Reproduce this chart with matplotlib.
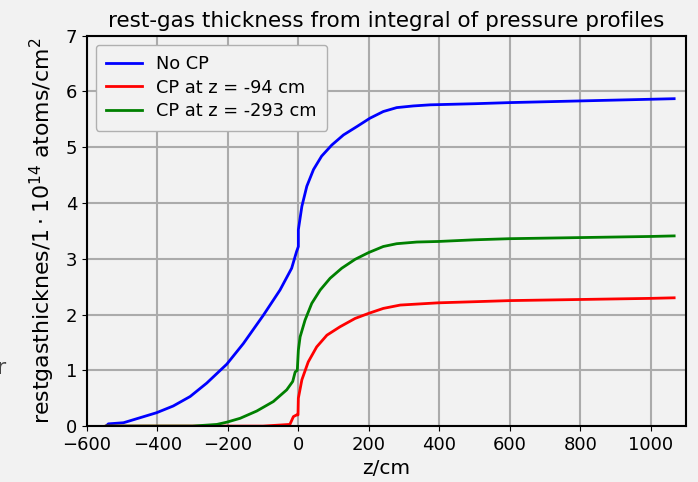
import numpy as np
import matplotlib.pyplot as plt

# z positions (cm) and rest-gas thickness (1e14 atoms/cm^2)
z_nocp = [-545, -539, -496, -449, -402, -355, -307, -260, -203, -156, -99, -52, -19, -12, -5, -1,
          0, 0, 10, 24, 43, 66, 95, 128, 166, 203, 241, 279, 326, 374,
          500, 600, 700, 800, 900, 1000, 1066]
t_nocp = [0.0, 0.04, 0.06, 0.15, 0.24, 0.36, 0.53, 0.77, 1.11, 1.48, 1.99, 2.44, 2.83, 2.98, 3.13, 3.2,
          3.22, 3.52, 3.94, 4.30, 4.60, 4.84, 5.04, 5.22, 5.37, 5.52, 5.64, 5.71, 5.74, 5.76,
          5.78, 5.80, 5.815, 5.83, 5.845, 5.86, 5.87]

z_cp94 = [-545, -300, -200, -100, -24, -14, -5, -1, 0, 10, 28, 52, 81, 118, 161, 199, 241, 289,
          397, 500, 600, 800, 1000, 1066]
t_cp94 = [0.0, 0.0, 0.0, 0.0, 0.03, 0.17, 0.2, 0.2, 0.5, 0.83, 1.15, 1.42, 1.63, 1.78, 1.93, 2.02, 2.11, 2.17,
          2.21, 2.23, 2.25, 2.27, 2.29, 2.3]

z_cp293 = [-545, -300, -231, -203, -165, -118, -71, -33, -16, -9, -3, 0, 5, 19, 38, 62, 90, 123, 161,
           199, 241, 279, 336, 397, 500, 600, 800, 1000, 1066]
t_cp293 = [0.0, 0.0, 0.03, 0.07, 0.14, 0.27, 0.44, 0.65, 0.80, 0.97, 1.0, 1.36, 1.60, 1.90, 2.20, 2.44, 2.65,
           2.83, 2.99, 3.11, 3.22, 3.27, 3.30, 3.31, 3.34, 3.36, 3.38, 3.40, 3.41]

bg = '#f2f2f2'
fig = plt.figure(figsize=(6.98, 4.82), dpi=100, facecolor=bg)
ax = fig.add_axes([0.1244, 0.116, 0.8586, 0.81], facecolor=bg)

ax.plot(z_nocp, t_nocp, color='#0000ff', lw=2, label='No CP')
ax.plot(z_cp94, t_cp94, color='#ff0000', lw=2, label='CP at z = -94 cm')
ax.plot(z_cp293, t_cp293, color='#008000', lw=2, label='CP at z = -293 cm')

ax.set_xlim(-600, 1100)
ax.set_ylim(0, 7)
ax.set_xticks(np.arange(-600, 1001, 200))
ax.set_yticks(np.arange(0, 8, 1))
ax.grid(True, color='#ababab', lw=1.5)
ax.tick_params(labelsize=13)
for s in ax.spines.values():
    s.set_linewidth(1.5)

ax.set_title('rest-gas thickness from integral of pressure profiles', fontsize=15.5)
ax.set_xlabel('z/cm', fontsize=14.5)
ax.set_ylabel(r'restgasthicknes/$1\cdot10^{14}$ atoms/cm$^2$', fontsize=15.8, labelpad=6)
leg = ax.legend(loc='upper left', fontsize=12.8, facecolor=bg, edgecolor='#b0b0b0', framealpha=1,
                labelspacing=0.3, borderpad=0.6)

fig.text(-0.004, 0.225, 'r', fontsize=16, color='#444444')

fig.savefig('out.png', dpi=100, facecolor=bg)
